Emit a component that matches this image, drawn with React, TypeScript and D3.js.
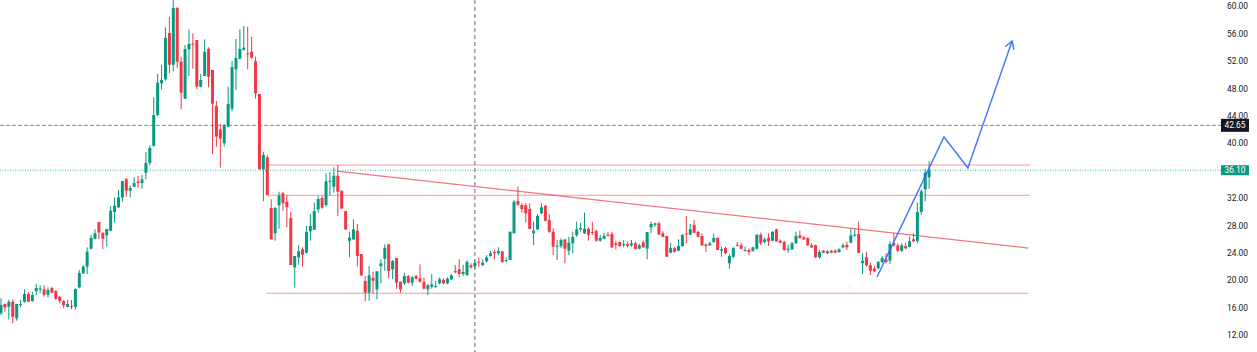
import React from 'react';
import * as d3 from 'd3';

const W = 1257;
const H = 352;

// OHLC, one entry per bar
const openPrices = [
  15.21, 16.57, 16.17, 16.90, 14.48, 16.49, 16.90, 18.03, 17.00, 18.46,
  18.80, 18.71, 17.92, 18.90, 18.46, 17.63, 17.00, 16.17, 16.27, 16.17,
  19.00, 21.05, 22.01, 24.64, 26.10, 28.54, 26.98, 26.60, 27.27, 30.00,
  30.68, 32.14, 34.77, 33.11, 33.69, 34.42, 34.23, 35.74, 37.15, 39.68,
  44.16, 48.79, 49.37, 56.13, 51.50, 59.78, 51.94, 46.54, 53.75, 54.57,
  55.11, 48.29, 49.85, 53.80, 50.73, 45.47, 42.07, 40.03, 42.45, 45.08,
  50.83, 52.38, 53.69, 53.17, 53.40, 52.00, 47.23, 36.23, 37.98, 30.58,
  26.89, 30.98, 32.73, 31.50, 29.12, 21.92, 23.38, 24.55, 24.06, 27.18,
  27.41, 30.39, 32.04, 31.02, 34.48, 33.69, 35.30, 33.11, 30.14, 25.81,
  26.01, 27.27, 23.87, 19.93, 18.22, 20.41, 18.71, 22.11, 23.18, 25.28,
  21.63, 23.28, 19.82, 19.59, 20.65, 19.68, 20.65, 20.32, 19.82, 18.71,
  19.09, 19.09, 19.59, 20.07, 19.59, 20.17, 21.38, 21.63, 20.95, 20.80,
  22.22, 22.11, 22.74, 22.26, 22.80, 23.57, 24.16, 23.97, 24.26, 22.89,
  22.99, 26.89, 31.60, 31.02, 30.98, 30.44, 26.89, 27.47, 29.81, 30.92,
  28.83, 27.12, 24.93, 25.03, 26.01, 24.35, 25.43, 26.60, 27.47, 26.89,
  27.56, 27.08, 27.22, 25.81, 26.10, 26.69, 26.79, 25.43, 25.62, 25.14,
  25.33, 25.14, 25.43, 24.64, 25.58, 24.64, 27.76, 28.14, 28.35, 26.89,
  26.50, 24.06, 24.70, 24.35, 25.03, 26.89, 26.69, 28.14, 27.08, 26.50,
  25.22, 25.14, 25.62, 26.20, 24.35, 24.74, 22.51, 23.47, 25.22, 25.14,
  24.35, 24.45, 24.35, 24.64, 26.69, 25.62, 26.20, 25.81, 27.47, 25.81,
  25.62, 24.55, 24.55, 25.43, 26.60, 26.30, 26.20, 25.14, 25.14, 23.38,
  24.35, 23.97, 24.35, 24.35, 24.16, 24.84, 25.18, 25.52, 26.60, 26.79,
  22.51, 23.38, 22.22, 21.72, 21.78, 22.70, 23.09, 22.89, 25.43, 25.14,
  24.35, 25.03, 24.93, 26.01, 25.77, 30.00, 33.31, 35.07,
];

const highPrices = [
  17.40, 16.67, 17.15, 17.25, 16.60, 17.15, 18.71, 18.32, 18.32, 19.49,
  19.30, 19.30, 19.00, 19.09, 18.61, 17.73, 17.15, 17.15, 17.15, 18.86,
  21.53, 22.26, 24.84, 26.64, 27.47, 28.54, 26.98, 27.52, 30.87, 32.14,
  33.21, 34.52, 34.96, 33.90, 35.06, 35.25, 35.40, 38.76, 39.74, 46.74,
  50.15, 51.46, 56.96, 58.51, 60.95, 59.90, 52.67, 54.38, 56.67, 56.09,
  55.11, 50.15, 55.21, 54.04, 50.73, 46.20, 42.85, 42.85, 48.29, 52.04,
  55.26, 56.67, 57.15, 57.05, 55.55, 52.67, 47.23, 38.80, 38.28, 31.85,
  30.77, 32.96, 32.96, 32.44, 30.04, 23.57, 25.14, 24.84, 27.95, 29.71,
  31.36, 32.33, 32.33, 35.65, 35.84, 36.52, 36.86, 33.11, 30.14, 27.12,
  28.93, 28.25, 23.87, 20.65, 22.11, 21.28, 21.34, 23.09, 25.28, 25.28,
  22.99, 23.28, 19.82, 21.14, 20.80, 20.65, 20.84, 22.36, 20.46, 19.49,
  20.95, 19.93, 20.46, 20.32, 20.46, 20.95, 22.26, 23.09, 22.30, 22.99,
  22.51, 22.99, 23.38, 23.09, 23.72, 24.35, 24.45, 24.84, 24.26, 23.38,
  27.12, 31.75, 33.69, 31.27, 31.27, 31.27, 28.58, 29.71, 31.27, 31.02,
  29.71, 27.62, 25.91, 26.16, 26.01, 26.39, 27.12, 28.58, 28.44, 29.90,
  27.76, 28.58, 27.47, 26.64, 26.98, 27.08, 27.12, 25.81, 25.66, 25.91,
  25.66, 25.91, 25.66, 25.33, 25.81, 27.08, 28.58, 28.44, 28.58, 27.18,
  26.50, 25.52, 24.93, 26.01, 26.69, 29.41, 28.25, 28.83, 27.27, 26.89,
  25.43, 25.66, 26.89, 26.30, 24.93, 24.93, 23.87, 24.93, 25.62, 25.52,
  24.93, 24.70, 24.93, 26.69, 26.98, 26.30, 26.89, 27.18, 27.56, 26.01,
  25.81, 25.22, 25.66, 27.12, 27.27, 26.50, 26.30, 25.43, 25.22, 24.45,
  24.45, 24.45, 24.45, 24.55, 24.70, 25.43, 25.66, 27.56, 27.56, 28.58,
  23.97, 24.20, 22.60, 22.11, 22.89, 23.57, 23.97, 25.72, 26.89, 25.43,
  25.43, 25.52, 26.39, 26.89, 31.36, 33.31, 36.32, 37.40,
];

const lowPrices = [
  14.96, 15.44, 14.33, 13.75, 14.13, 16.08, 16.76, 16.86, 16.90, 17.84,
  18.13, 17.63, 17.48, 18.13, 17.15, 16.67, 15.94, 16.08, 15.79, 15.79,
  18.86, 20.95, 20.95, 24.55, 26.01, 26.01, 24.55, 24.93, 27.18, 28.44,
  30.58, 31.50, 32.23, 32.14, 33.60, 33.55, 33.40, 34.77, 36.82, 39.53,
  44.01, 47.91, 49.17, 50.25, 50.54, 50.98, 44.99, 46.54, 49.85, 50.92,
  47.91, 48.20, 49.85, 48.20, 38.47, 39.53, 36.47, 39.53, 42.45, 44.70,
  47.81, 52.29, 53.55, 50.83, 52.38, 46.54, 36.23, 31.56, 32.44, 26.01,
  25.81, 27.56, 30.19, 27.76, 22.26, 18.95, 22.30, 22.01, 23.97, 25.81,
  27.37, 29.90, 30.48, 30.77, 32.44, 32.82, 29.41, 30.48, 27.37, 23.38,
  25.91, 22.01, 20.65, 16.96, 17.05, 18.03, 17.25, 19.59, 21.43, 20.32,
  20.22, 18.80, 18.22, 19.34, 19.59, 19.19, 20.17, 19.68, 18.71, 17.84,
  18.80, 18.95, 19.44, 19.44, 19.44, 20.07, 21.05, 20.46, 20.65, 20.65,
  21.72, 21.72, 22.01, 22.11, 22.60, 23.47, 23.09, 23.68, 22.60, 22.60,
  22.99, 26.89, 30.87, 29.90, 28.44, 27.52, 25.18, 27.37, 29.71, 28.64,
  26.98, 23.72, 22.99, 24.70, 22.51, 23.68, 23.97, 26.39, 27.12, 26.79,
  25.81, 26.64, 25.66, 25.66, 26.01, 26.39, 24.74, 24.55, 24.93, 24.84,
  24.84, 24.93, 24.55, 24.55, 24.74, 23.09, 26.89, 27.85, 26.69, 26.31,
  23.47, 23.97, 24.06, 24.26, 24.93, 25.43, 26.64, 26.89, 26.31, 25.03,
  24.16, 25.03, 25.52, 24.45, 23.47, 23.87, 21.72, 23.28, 24.93, 24.55,
  24.26, 23.68, 24.20, 24.55, 25.18, 25.43, 25.03, 25.72, 25.62, 25.43,
  24.35, 24.06, 24.45, 25.33, 26.10, 25.91, 25.03, 24.74, 23.28, 23.18,
  23.97, 23.87, 23.97, 23.97, 24.06, 24.70, 24.45, 25.43, 26.39, 23.97,
  20.95, 22.01, 20.80, 21.24, 21.63, 22.51, 22.51, 22.40, 24.93, 24.16,
  24.16, 24.55, 24.84, 25.62, 25.43, 29.61, 31.56, 33.40,
];

const closePrices = [
  16.42, 16.08, 16.90, 14.71, 16.57, 16.57, 18.03, 16.90, 17.88, 18.90,
  18.83, 17.92, 18.61, 18.22, 17.34, 17.00, 16.38, 16.57, 16.17, 18.76,
  21.09, 22.01, 24.20, 26.20, 26.89, 26.98, 26.10, 27.52, 30.19, 30.92,
  32.14, 34.52, 33.11, 33.50, 34.23, 34.23, 34.77, 37.15, 39.34, 44.16,
  48.88, 49.27, 55.40, 51.50, 59.78, 51.94, 47.42, 53.80, 54.53, 54.42,
  48.29, 49.27, 53.40, 49.75, 45.81, 41.00, 40.70, 42.60, 45.77, 51.17,
  52.48, 53.80, 53.99, 53.02, 52.53, 47.33, 36.23, 38.32, 32.44, 26.01,
  30.58, 32.38, 31.27, 30.68, 22.26, 23.57, 24.26, 23.76, 27.12, 27.95,
  30.14, 31.90, 30.63, 34.48, 34.57, 35.30, 32.96, 30.48, 27.47, 26.25,
  27.47, 23.57, 20.76, 18.22, 20.76, 19.97, 21.34, 22.51, 24.79, 21.38,
  22.84, 19.68, 18.71, 20.65, 19.68, 20.46, 20.26, 19.82, 18.80, 19.30,
  19.44, 19.19, 20.17, 19.59, 20.26, 20.76, 21.19, 20.95, 21.24, 22.70,
  21.92, 22.55, 22.60, 22.60, 23.38, 23.97, 23.97, 24.30, 22.70, 22.99,
  27.12, 31.50, 31.06, 30.44, 29.81, 27.52, 27.27, 29.41, 30.68, 28.73,
  27.12, 24.93, 25.08, 25.91, 24.64, 25.52, 26.35, 27.47, 27.66, 27.56,
  26.64, 26.98, 25.81, 26.20, 26.50, 26.60, 24.84, 25.18, 25.03, 25.33,
  25.03, 25.43, 24.60, 25.14, 24.84, 27.08, 28.25, 28.35, 26.69, 26.39,
  23.47, 24.74, 24.20, 25.03, 26.69, 26.79, 27.47, 26.98, 26.39, 25.14,
  25.03, 25.43, 26.20, 24.45, 24.55, 23.97, 23.57, 24.74, 25.14, 24.64,
  24.45, 24.16, 24.84, 26.69, 25.43, 26.01, 25.72, 27.12, 25.72, 25.52,
  24.45, 24.64, 25.43, 26.50, 26.20, 26.01, 25.14, 24.84, 23.38, 24.16,
  24.06, 24.26, 24.06, 24.06, 24.55, 25.14, 24.84, 26.60, 26.69, 24.06,
  22.89, 22.22, 21.43, 21.34, 22.70, 23.28, 22.70, 25.33, 25.14, 24.35,
  25.14, 24.70, 25.72, 25.72, 30.00, 33.02, 35.74, 36.10,
];

const priceTicks = [60, 56, 52, 48, 44, 40, 36, 32, 28, 24, 20, 16, 12];
const lastPrice = 36.10;
const cursorPrice = 42.65;
const cursorBar = 121;

// drawings, in [bar index, price]
const levelLines: [number, number, number][] = [
  [68.2, 262.8, 36.86],
  [68.2, 262.8, 32.44],
  [67.7, 262.3, 18.13],
];
const trendLine: [number, number][] = [[85.8, 35.98], [262.3, 24.74]];
const projection: [number, number][] = [
  [223.7, 20.51],
  [240.8, 40.95],
  [246.9, 36.42],
  [258.2, 54.96],
];

const GREEN = '#089981';
const RED = '#f23645';
const BLUE = '#2962ff';
const FONT = 'Roboto, "Noto Sans", sans-serif';

export default function App() {
  const x = d3.scaleLinear().domain([0, 310]).range([1, 1215]);
  const y = d3.scaleLinear().domain([12, 60]).range([335.3, 6.5]);
  const axisX = 1221;

  const bars = openPrices.map((o, i) => ({
    i, o, h: highPrices[i], l: lowPrices[i], c: closePrices[i],
  }));

  const line = d3.line<[number, number]>().x(d => x(d[0])).y(d => y(d[1]));

  // arrow head on the last projection leg
  const p1 = projection[projection.length - 2];
  const p2 = projection[projection.length - 1];
  const ang = Math.atan2(y(p2[1]) - y(p1[1]), x(p2[0]) - x(p1[0]));
  const headLen = 9;
  const tipX = x(p2[0]), tipY = y(p2[1]);
  const wing = (a: number) => [tipX - headLen * Math.cos(ang + a), tipY - headLen * Math.sin(ang + a)];
  const w1 = wing(0.55), w2 = wing(-0.55);

  return (
    <svg width={W} height={H} style={{ position: 'fixed', left: 0, top: 0, background: '#fff' }}>
      {/* cursor crosshair */}
      <line x1={x(cursorBar)} x2={x(cursorBar)} y1={0} y2={H}
        stroke="#6a6d78" strokeWidth={1} strokeDasharray="4,3" />
      <line x1={0} x2={axisX} y1={y(cursorPrice)} y2={y(cursorPrice)}
        stroke="#8a8d96" strokeWidth={1} strokeDasharray="4,2" />

      {/* horizontal levels */}
      {levelLines.map(([a, b, p], k) => (
        <line key={k} x1={x(a)} x2={x(b)} y1={y(p)} y2={y(p)}
          stroke={RED} strokeOpacity={0.5} strokeWidth={1.1} />
      ))}
      <path d={line(trendLine) || ''} fill="none" stroke={RED} strokeOpacity={0.7} strokeWidth={1.2} />

      {/* candles */}
      {bars.map(b => {
        const cx = x(b.i);
        const up = b.c >= b.o;
        const col = up ? GREEN : RED;
        const top = y(Math.max(b.o, b.c));
        const bot = y(Math.min(b.o, b.c));
        return (
          <g key={b.i}>
            <line x1={cx} x2={cx} y1={y(b.h)} y2={y(b.l)} stroke={col} strokeWidth={1} />
            <rect x={cx - 1.5} y={top} width={3} height={Math.max(1, bot - top)} fill={col} />
          </g>
        );
      })}

      {/* last price line */}
      <line x1={0} x2={axisX} y1={y(lastPrice)} y2={y(lastPrice)}
        stroke={GREEN} strokeOpacity={0.75} strokeWidth={1} strokeDasharray="1,1.5" />

      {/* projection zigzag */}
      <path d={line(projection) || ''} fill="none" stroke={BLUE} strokeWidth={1.5} strokeOpacity={0.85} />
      <path d={`M${w1[0]},${w1[1]}L${tipX},${tipY}L${w2[0]},${w2[1]}`} fill="none"
        stroke={BLUE} strokeWidth={1.5} strokeOpacity={0.85} />

      {/* price axis */}
      {priceTicks.map(t => (
        <text key={t} x={1227} y={y(t)} dy="0.35em" fontFamily={FONT} fontSize={8.4} fill="#131722">
          {t.toFixed(2)}
        </text>
      ))}
      <rect x={axisX} y={y(cursorPrice) - 6.5} width={28} height={13} fill="#131722" />
      <text x={axisX + 14} y={y(cursorPrice)} dy="0.35em" textAnchor="middle"
        fontFamily={FONT} fontSize={8.4} fill="#fff">{cursorPrice.toFixed(2)}</text>
      <rect x={axisX} y={y(lastPrice) - 5} width={28} height={10} fill={GREEN} />
      <text x={axisX + 14} y={y(lastPrice)} dy="0.35em" textAnchor="middle"
        fontFamily={FONT} fontSize={8.4} fill="#fff">{lastPrice.toFixed(2)}</text>
    </svg>
  );
}
